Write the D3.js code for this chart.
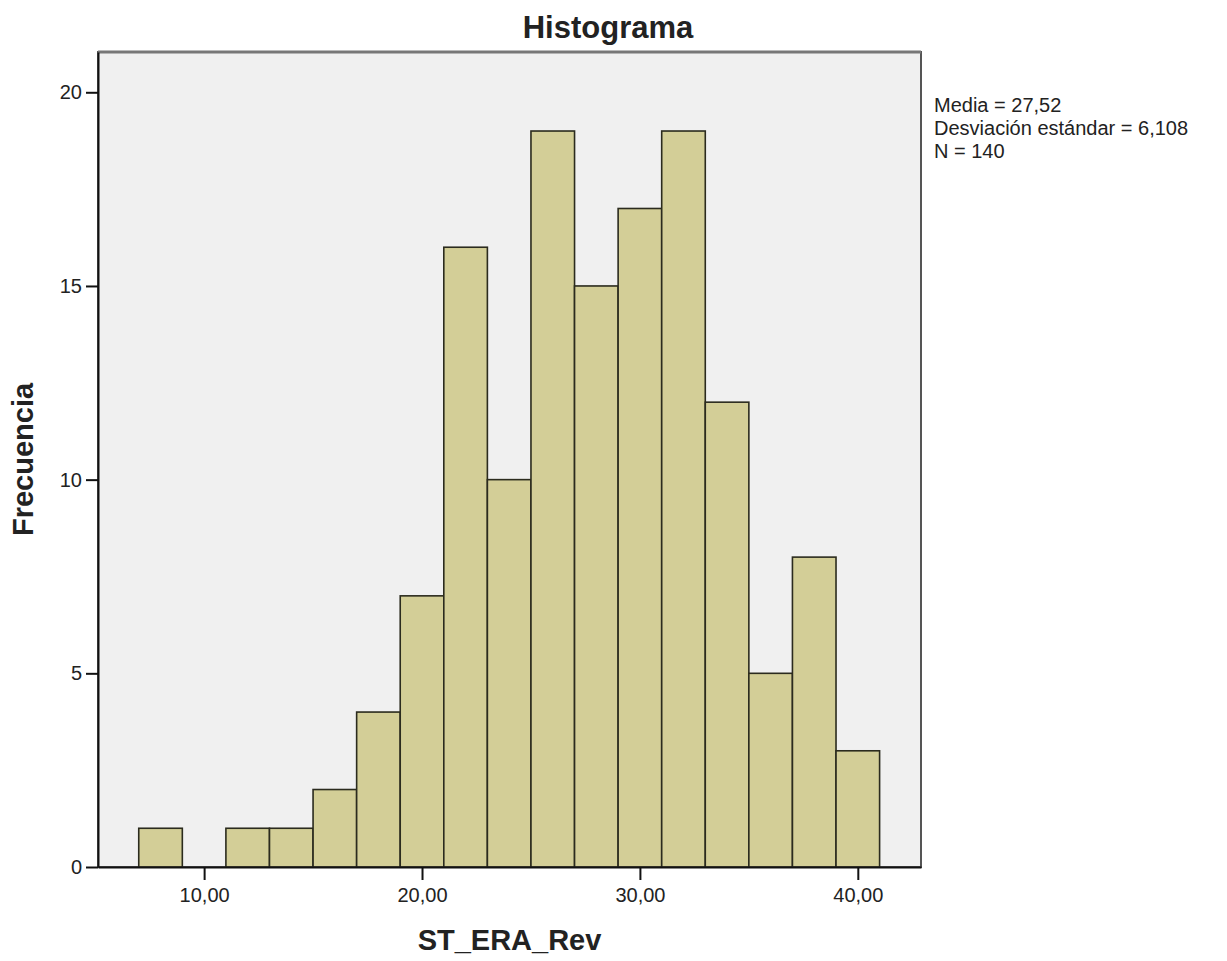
<!DOCTYPE html>
<meta charset="utf-8">
<style>
  body { margin: 0; background: #fff; }
  text { font-family: "Liberation Sans", Arial, sans-serif; fill: #222; }
  .title { font-weight: bold; font-size: 31px; }
  .axtitle { font-weight: bold; font-size: 29px; }
  .tick text { font-size: 20px; }
  .stats { font-size: 20px; }
</style>
<body>
<script src="https://cdn.jsdelivr.net/npm/d3@7"></script>
<script>
  // bins of width 2 starting at 7
  var binStarts = [7, 9, 11, 13, 15, 17, 19, 21, 23, 25, 27, 29, 31, 33, 35, 37, 39];
  var counts = [1, 0, 1, 1, 2, 4, 7, 16, 10, 19, 15, 17, 19, 12, 5, 8, 3];
  var xTicks = [10, 20, 30, 40];
  var yTicks = [0, 5, 10, 15, 20];
  var stats = ["Media = 27,52", "Desviación estándar = 6,108", "N = 140"];
  var binWidth = 2;

  var width = 1227, height = 961;
  var pLeft = 98, pRight = 921, pTop = 52, pBottom = 867;

  var svg = d3.select("body").append("svg")
    .attr("width", width)
    .attr("height", height);

  var x = d3.scaleLinear().domain([5.13, 42.9]).range([pLeft, pRight]);
  var y = d3.scaleLinear().domain([0, 21.04]).range([pBottom, pTop]);

  // plot background + frame
  svg.append("rect")
    .attr("x", pLeft).attr("y", pTop)
    .attr("width", pRight - pLeft).attr("height", pBottom - pTop)
    .attr("fill", "#f0f0f0")
    .attr("stroke", "#555")
    .attr("stroke-width", 2);
  svg.append("line")
    .attr("x1", pLeft).attr("x2", pRight)
    .attr("y1", pTop).attr("y2", pTop)
    .attr("stroke", "#777").attr("stroke-width", 3);

  // bars
  svg.selectAll("rect.bar")
    .data(counts.map(function(c, i) { return { x0: binStarts[i], n: c }; })
      .filter(function(d) { return d.n > 0; }))
    .enter().append("rect")
    .attr("class", "bar")
    .attr("x", function(d) { return x(d.x0); })
    .attr("y", function(d) { return y(d.n); })
    .attr("width", function(d) { return x(d.x0 + binWidth) - x(d.x0); })
    .attr("height", function(d) { return y(0) - y(d.n); })
    .attr("fill", "#d3ce97")
    .attr("stroke", "#2b2b1e")
    .attr("stroke-width", 1.6);

  // axes
  var xAxis = svg.append("g")
    .attr("transform", "translate(0," + pBottom + ")")
    .call(d3.axisBottom(x).tickValues(xTicks).tickSize(13).tickSizeOuter(0).tickPadding(8)
      .tickFormat(function(d) { return d3.format(".2f")(d).replace(".", ","); }));
  xAxis.select(".domain").attr("stroke", "#111").attr("stroke-width", 2);
  xAxis.selectAll(".tick line").attr("stroke", "#111").attr("stroke-width", 2);
  xAxis.selectAll(".tick text").attr("fill", "#222");

  var yAxis = svg.append("g")
    .attr("transform", "translate(" + pLeft + ",0)")
    .call(d3.axisLeft(y).tickValues(yTicks).tickSize(12).tickSizeOuter(0).tickPadding(4));
  yAxis.select(".domain").attr("stroke", "#111").attr("stroke-width", 2);
  yAxis.selectAll(".tick line").attr("stroke", "#111").attr("stroke-width", 2);
  yAxis.selectAll(".tick text").attr("fill", "#222");

  // titles
  svg.append("text").attr("class", "title")
    .attr("x", 608).attr("y", 38)
    .attr("text-anchor", "middle")
    .text("Histograma");

  svg.append("text").attr("class", "axtitle")
    .attr("x", (pLeft + pRight) / 2).attr("y", 950)
    .attr("text-anchor", "middle")
    .text("ST_ERA_Rev");

  svg.append("text").attr("class", "axtitle")
    .attr("transform", "translate(33," + ((pTop + pBottom) / 2) + ") rotate(-90)")
    .attr("text-anchor", "middle")
    .text("Frecuencia");

  // stats box
  svg.selectAll("text.stats")
    .data(stats)
    .enter().append("text")
    .attr("class", "stats")
    .attr("x", 934)
    .attr("y", function(d, i) { return 112 + i * 23; })
    .text(function(d) { return d; });
</script>
</body>
